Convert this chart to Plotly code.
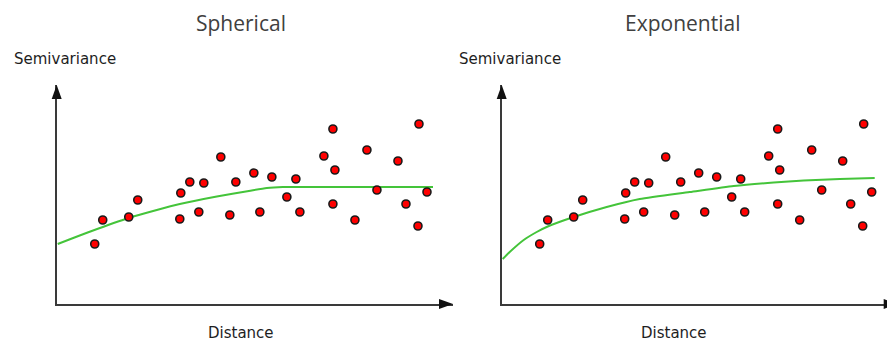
import plotly.graph_objects as go

# Experimental semivariogram: lag distance vs semivariance (same sample in both panels)
distance = [3.8, 4.6, 7.2, 8.1, 12.3, 12.4, 13.3, 14.2, 14.7, 16.4,
            17.3, 17.9, 19.7, 20.3, 21.5, 23.0, 23.9, 24.3, 26.7, 27.6,
            27.8, 27.6, 29.8, 31.0, 32.0, 34.1, 34.9, 36.2, 36.1, 37.0]
semivariance = [6.0, 8.4, 8.7, 10.4, 8.5, 11.1, 12.2, 9.2, 12.1, 14.7,
                8.9, 12.2, 13.1, 9.2, 12.7, 10.7, 12.5, 9.2, 14.8, 17.5,
                13.4, 10.0, 8.4, 15.4, 11.4, 14.3, 10.0, 18.0, 7.8, 11.2]

# Fitted model curves
sph_d = [0.1, 3.5, 7.2, 10.0, 12.3, 16.0, 19.2, 21.0, 22.6, 30.0, 37.6]
sph_g = [6.0, 7.3, 8.6, 9.4, 10.0, 10.75, 11.3, 11.6, 11.7, 11.7, 11.7]

exp_d = [0.1, 0.8, 2.2, 3.5, 4.6, 7.2, 10.5, 13.8, 18.8, 23.2, 27.2, 30.2, 33.8, 37.3]
exp_g = [4.5, 5.2, 6.4, 7.2, 7.75, 8.7, 9.7, 10.5, 11.2, 11.8, 12.15, 12.35, 12.5, 12.6]

titles = ["Spherical", "Exponential"]
y_label = "Semivariance"
x_label = "Distance"

W, H = 887, 342
TITLE_FONT = "Open Sans, Noto Sans, sans-serif"
LABEL_FONT = "DejaVu Sans, sans-serif"
AXIS_COL = "#3a3a3a"
DOT_RED = "#ff0000"
CURVE_GREEN = "#44c43a"

# pixel frame of each panel: (left, right, bottom, top)
panels = [(56.7, 453.0, 304.0, 85.0), (501.7, 887.0, 304.0, 85.0)]
x_ranges = [[0, 39.6], [0, (887.0 - 501.7) / 10.0]]
y_range = [0, 21.9]


def fx(px):
    return px / W


def fy(py):
    return 1 - py / H


fig = go.Figure()

for i, (cd, cg) in enumerate([(sph_d, sph_g), (exp_d, exp_g)]):
    xa = "x" if i == 0 else "x2"
    ya = "y" if i == 0 else "y2"
    fig.add_trace(go.Scatter(
        x=cd, y=cg, mode="lines", xaxis=xa, yaxis=ya,
        line=dict(color=CURVE_GREEN, width=2, shape="spline", smoothing=0.6),
        hoverinfo="skip", showlegend=False))
    fig.add_trace(go.Scatter(
        x=distance, y=semivariance, mode="markers", xaxis=xa, yaxis=ya,
        marker=dict(size=8, color=DOT_RED, line=dict(color="#1a1a1a", width=1.6)),
        showlegend=False))

axis_common = dict(showline=True, linecolor=AXIS_COL, linewidth=2, showgrid=False,
                   zeroline=False, showticklabels=False, ticks="", fixedrange=True)

layout = dict(
    width=W, height=H, margin=dict(l=0, r=0, t=0, b=0),
    paper_bgcolor="white", plot_bgcolor="white", showlegend=False,
)
for i, (l, r, b, t) in enumerate(panels):
    sx = "" if i == 0 else "2"
    layout["xaxis" + sx] = dict(axis_common, domain=[fx(l), fx(r)], range=x_ranges[i],
                                anchor="y" + sx)
    layout["yaxis" + sx] = dict(axis_common, domain=[fy(b), fy(t)], range=y_range,
                                anchor="x" + sx)
fig.update_layout(**layout)

# arrowheads at the ends of the axes
shapes = []
for i, (l, r, b, t) in enumerate(panels):
    # y axis arrow (pointing up)
    shapes.append(dict(
        type="path", xref="paper", yref="paper",
        path=f"M{fx(l)},{fy(t)} L{fx(l - 5)},{fy(t + 14)} L{fx(l + 5)},{fy(t + 14)} Z",
        fillcolor="#111", line=dict(width=0)))
    # x axis arrow (pointing right)
    tip = 453.0 if i == 0 else 897.7
    shapes.append(dict(
        type="path", xref="paper", yref="paper",
        path=f"M{fx(tip)},{fy(b)} L{fx(tip - 14)},{fy(b - 5)} L{fx(tip - 14)},{fy(b + 5)} Z",
        fillcolor="#111", line=dict(width=0)))
fig.update_layout(shapes=shapes)

# text labels
title_x = [241, 682]
ylab_x = [65, 510]
xlab_x = [241, 674]
annotations = []
for i in range(2):
    annotations.append(dict(text=titles[i], x=fx(title_x[i]), y=fy(23), xref="paper", yref="paper",
                            showarrow=False, xanchor="center", yanchor="middle",
                            font=dict(family=TITLE_FONT, size=21, color="#404040")))
    annotations.append(dict(text=y_label, x=fx(ylab_x[i]), y=fy(59), xref="paper", yref="paper",
                            showarrow=False, xanchor="center", yanchor="middle",
                            font=dict(family=LABEL_FONT, size=15, color="#1e1e1e")))
    annotations.append(dict(text=x_label, x=fx(xlab_x[i]), y=fy(333), xref="paper", yref="paper",
                            showarrow=False, xanchor="center", yanchor="middle",
                            font=dict(family=LABEL_FONT, size=15, color="#1e1e1e")))
fig.update_layout(annotations=annotations)

fig.write_html("out.html")
